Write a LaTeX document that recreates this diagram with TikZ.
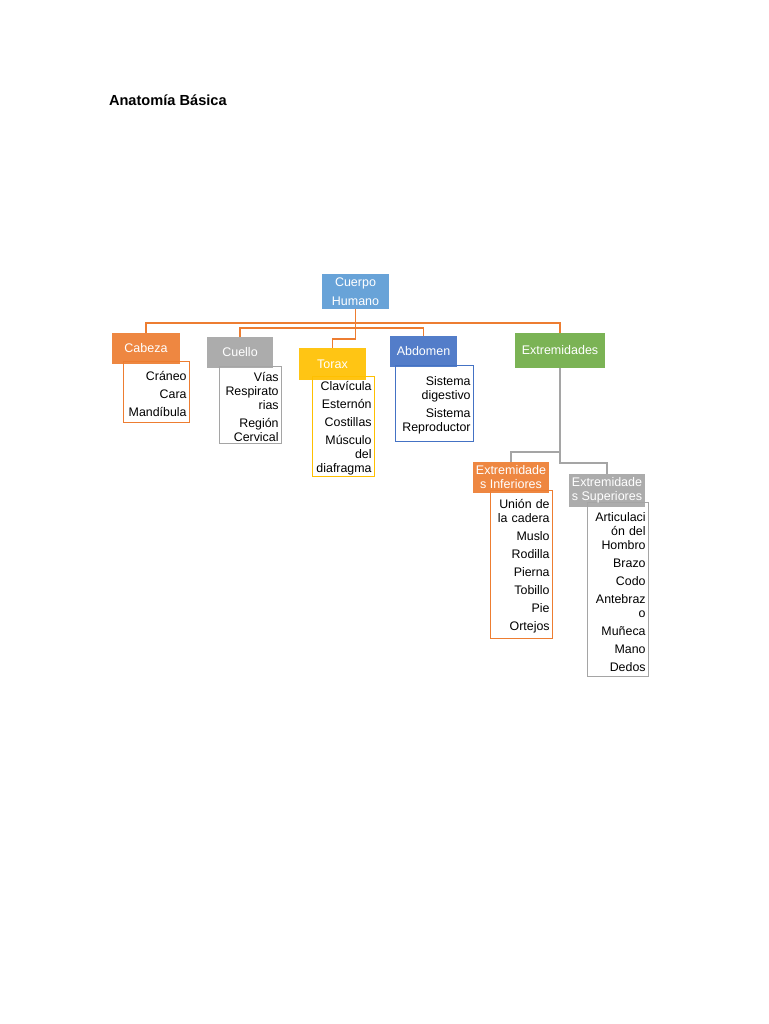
\documentclass[tikz,border=0pt]{standalone}
\usepackage{fontspec}
\setmainfont{Liberation Sans}
\usepackage{tikz}

\definecolor{corange}{HTML}{ED7D31}
\definecolor{cgray}{HTML}{A5A5A5}
\definecolor{cyellow}{HTML}{FFC000}
\definecolor{cblue}{HTML}{4472C4}
\definecolor{clight}{HTML}{5B9BD5}
\definecolor{cgreen}{HTML}{70AD47}

\newcommand\hdfont{\fontsize{12.5}{14}\selectfont}
\newcommand\lsfont{\fontsize{12.4}{14}\selectfont}
\newcommand\leadline{\rule{0pt}{13pt}}

\pgfdeclarelayer{back}
\pgfdeclarelayer{mid}
\pgfsetlayers{back,mid,main}

\begin{document}
\begin{tikzpicture}[
				x=1pt, y=-1pt,
				head/.style={
					fill=#1,
					fill opacity=0.92,
					text opacity=1,
					text=white,
					inner sep=0pt,
					align=center,
					font=\hdfont
				},
				items/.style={
					draw=#1,
					fill=white,
					line width=1.2pt,
					inner ysep=0pt,
					inner xsep=3pt,
					align=right,
					anchor=north west,
					font=\lsfont
				},
				link/.style={draw=#1, line width=1.5pt}
				]
				
				\useasboundingbox (0,0) rectangle (768,1024);
				
				\node[anchor=west, font=\bfseries\fontsize{14.6}{16}\selectfont] (title) at (105.5,100) {Anatomía Básica};
				
				% bus levels
				\coordinate (bus) at (0,323);
				\coordinate (bus2) at (0,328);
				\coordinate (bus3) at (0,339);
				\coordinate (bus4) at (0,452);
				\coordinate (bus5) at (0,463);
				
				% headers
				\node[head=clight, minimum width=67, minimum height=35, font=\fontsize{12.5}{17.5}\selectfont] (cuerpo) at (355.5,291.5) {\raisebox{2pt}{Cuerpo}\\Humano};
				\node[head=corange, minimum width=68, minimum height=31] (cab) at (146,348.5) {Cabeza};
				\node[head=cgray, minimum width=66, minimum height=31] (cue) at (240,352.5) {Cuello};
				\node[head=cyellow, minimum width=67, minimum height=32] (tor) at (332.5,364) {Torax};
				\node[head=cblue, minimum width=67, minimum height=31] (abd) at (423.5,351.5) {Abdomen};
				\node[head=cgreen, minimum width=90, minimum height=35] (ext) at (560,350.5) {Extremidades};
				\node[head=corange, minimum width=76, minimum height=31] (inf) at (511,477.5) {Extremidade\\s Inferiores};
				\node[head=cgray, minimum width=76, minimum height=33] (sup) at (607,490.5) {Extremidade\\s Superiores};
				
				\begin{pgfonlayer}{back}
				\draw[link=corange] (cuerpo.south) -- (cuerpo.south |- bus) -| (cab.north);
				\draw[link=corange] (cuerpo.south |- bus) -| (ext.north);
				\draw[link=corange] (cue.north) |- (bus2 -| abd.north) -- (abd.north);
				\draw[link=corange] (cuerpo.south) -- (cuerpo.south |- bus3) -| (tor.north);
				\draw[link=cgray] (ext.south) -- (ext.south |- bus5) -| (sup.north);
				\draw[link=cgray] (ext.south |- bus4) -| (inf.north);
				\end{pgfonlayer}
				
				% lists
				\begin{pgfonlayer}{mid}
				\node[items=corange, minimum width=66, minimum height=61, text width=60] (cabL) at (123,361)
				{\leadline Cráneo\\[4pt]Cara\\[4pt]Mandíbula};
				\node[items=cgray, minimum width=62, minimum height=77, text width=56] (cueL) at (219,366)
				{\leadline Vías\\Respirato\\rias\\[4pt]Región\\Cervical};
				\node[items=cyellow, minimum width=62, minimum height=100, text width=56] (torL) at (312,376)
				{\leadline Clavícula\\[4pt]Esternón\\[4pt]Costillas\\[4pt]Músculo\\del\\diafragma};
				\node[items=cblue, minimum width=78, minimum height=76, text width=72] (abdL) at (395,365)
				{\leadline Sistema\\digestivo\\[4pt]Sistema\\Reproductor};
				\node[items=corange, minimum width=62, minimum height=148, text width=56] (infL) at (490,490)
				{\leadline Unión de\\la cadera\\[4pt]Muslo\\[4pt]Rodilla\\[4pt]Pierna\\[4pt]Tobillo\\[4pt]Pie\\[4pt]Ortejos};
				\node[items=cgray, minimum width=61, minimum height=174, text width=55] (supL) at (587,502)
				{\leadline Articulaci\\ón del\\Hombro\\[4pt]Brazo\\[4pt]Codo\\[4pt]Antebraz\\o\\[4pt]Muñeca\\[4pt]Mano\\[4pt]Dedos};
				\end{pgfonlayer}
				
			\end{tikzpicture}
\end{document}
